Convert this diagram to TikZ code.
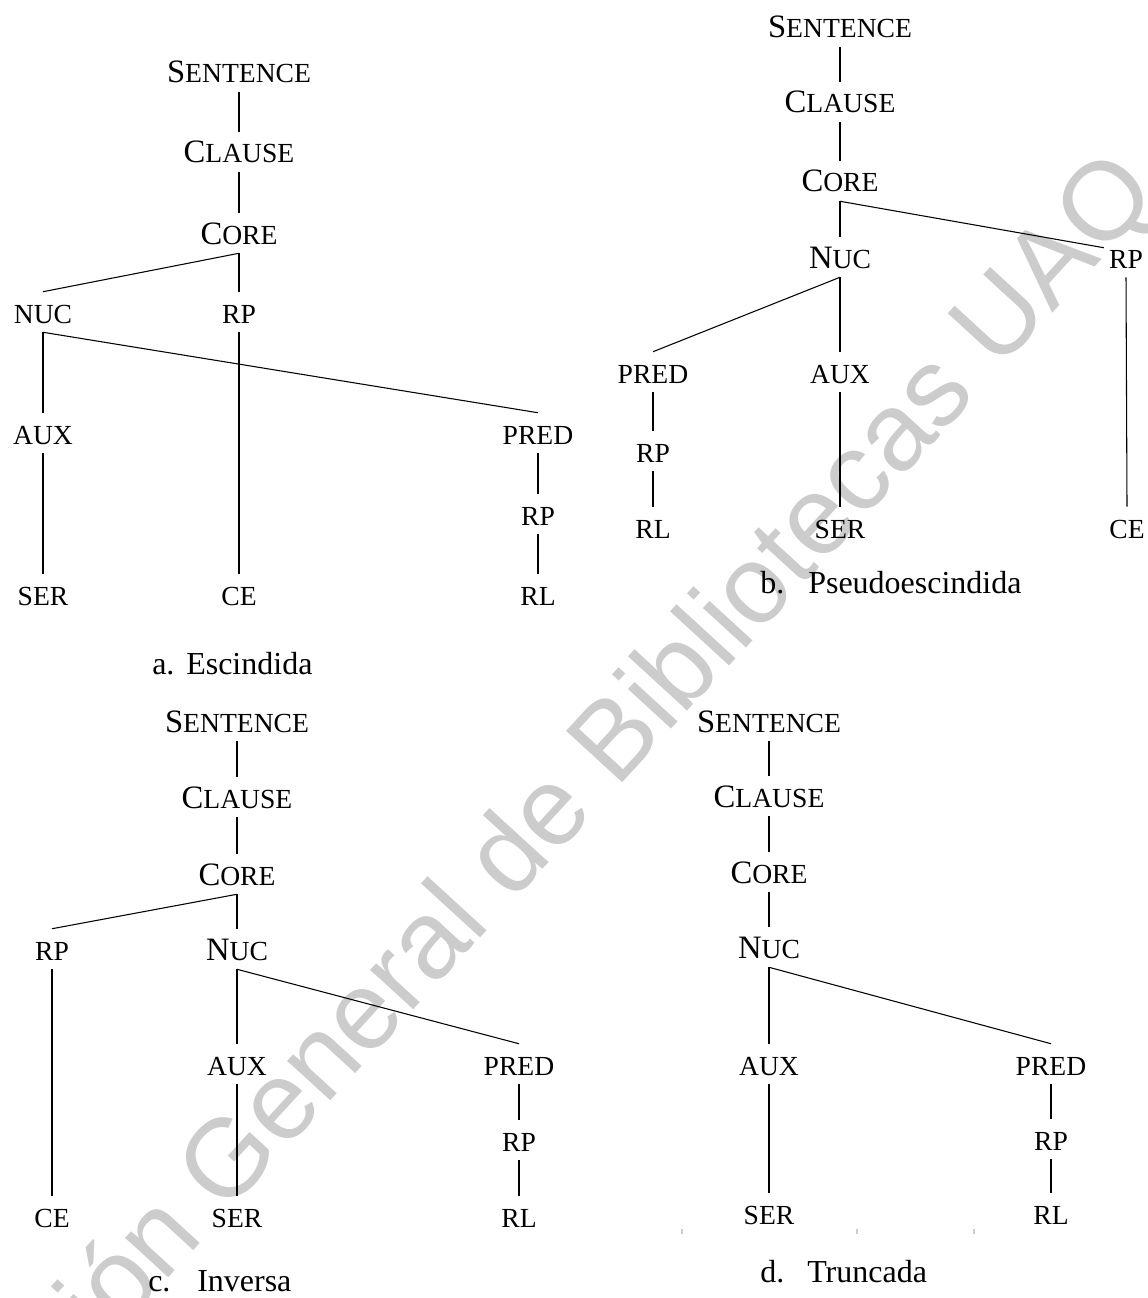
\documentclass[tikz,border=0pt]{standalone}
\usepackage{fontspec}
\setmainfont{Liberation Serif}
\newfontfamily\wmfont{Liberation Sans}
\definecolor{wmgray}{RGB}{204,204,204}
% small capitals: full-size initial, smaller capitals after it
\newcommand\scap[2]{{\fontsize{24.5}{29}\selectfont #1}#2}

\begin{document}
\begin{tikzpicture}[x=0.75pt,y=-0.75pt,
  lab/.style={font=\fontsize{20.7}{24}\selectfont, inner sep=0pt, anchor=base,
              text height=23.25pt, text depth=6.75pt},
  br/.style={draw=black, line width=0.8pt},
  capt/.style={font=\fontsize{24}{28}\selectfont, inner sep=0pt, anchor=base west},
  tick/.style={draw=wmgray, line width=0.8pt},
]
\useasboundingbox (0,0) rectangle (1147,1298);

% watermark
\node[rotate=47.5, text=wmgray, inner sep=0pt,
      font=\wmfont\fontsize{83}{90}\selectfont] (wm) at (505,866)
      {Dirección General de Bibliotecas UAQ};

% ---- a. Escindida
\node[lab] (a1)  at (239,83)  {\scap{S}{ENTENCE}};
\node[lab] (a2)  at (239,163) {\scap{C}{LAUSE}};
\node[lab] (a3)  at (239,244) {\scap{C}{ORE}};
\node[lab] (a4)  at (43,323)  {NUC};
\node[lab] (a5)  at (239,323) {RP};
\node[lab] (a6)  at (43,444)  {AUX};
\node[lab] (a7)  at (538,444) {PRED};
\node[lab] (a8)  at (538,525) {RP};
\node[lab] (a9)  at (43,605)  {SER};
\node[lab] (a10) at (239,605) {CE};
\node[lab] (a11) at (538,605) {RL};
\draw[br] (a1.south) -- (a2.north);
\draw[br] (a2.south) -- (a3.north);
\draw[br] (a3.south) -- (a4.north);
\draw[br] (a3.south) -- (a5.north);
\draw[br] (a4.south) -- (a6.north);
\draw[br] (a4.south) -- (a7.north);
\draw[br] (a5.south) -- (a10.north);
\draw[br] (a6.south) -- (a9.north);
\draw[br] (a7.south) -- (a8.north);
\draw[br] (a8.south) -- (a11.north);
\node[capt] (ca1) at (152,674) {a.};
\node[capt] (ca2) at (186,674) {Escindida};

% ---- b. Pseudoescindida
\node[lab] (b1)  at (840,38)   {\scap{S}{ENTENCE}};
\node[lab] (b2)  at (840,113)  {\scap{C}{LAUSE}};
\node[lab] (b3)  at (840,192)  {\scap{C}{ORE}};
\node[lab] (b4)  at (840,268)  {\scap{N}{UC}};
\node[lab] (b5)  at (1126,268) {RP};
\node[lab] (b6)  at (653,383)  {PRED};
\node[lab] (b7)  at (840,383)  {AUX};
\node[lab] (b8)  at (653,462)  {RP};
\node[lab] (b9)  at (653,538)  {RL};
\node[lab] (b10) at (840,538)  {SER};
\node[lab] (b11) at (1127,538) {CE};
\draw[br] (b1.south) -- (b2.north);
\draw[br] (b2.south) -- (b3.north);
\draw[br] (b3.south) -- (b4.north);
\draw[br] (b3.south) -- ([xshift=-3.75pt,yshift=-8.25pt]b5.north west);
\draw[br] (b4.south) -- (b6.north);
\draw[br] (b4.south) -- (b7.north);
\draw[br] (b5.south) -- (b11.north);
\draw[br] (b6.south) -- (b8.north);
\draw[br] (b8.south) -- (b9.north);
\draw[br] (b7.south) -- (b10.north);
\node[capt] (cb1) at (760,593) {b.};
\node[capt] (cb2) at (808,593) {Pseudoescindida};

% ---- c. Inversa
\node[lab] (c1)  at (237,732)  {\scap{S}{ENTENCE}};
\node[lab] (c2)  at (237,808)  {\scap{C}{LAUSE}};
\node[lab] (c3)  at (237,885)  {\scap{C}{ORE}};
\node[lab] (c4)  at (52,960)   {RP};
\node[lab] (c5)  at (237,960)  {\scap{N}{UC}};
\node[lab] (c6)  at (237,1075) {AUX};
\node[lab] (c7)  at (519,1075) {PRED};
\node[lab] (c8)  at (519,1151) {RP};
\node[lab] (c9)  at (52,1227)  {CE};
\node[lab] (c10) at (237,1227) {SER};
\node[lab] (c11) at (519,1227) {RL};
\draw[br] (c1.south) -- (c2.north);
\draw[br] (c2.south) -- (c3.north);
\draw[br] (c3.south) -- (c4.north);
\draw[br] (c3.south) -- (c5.north);
\draw[br] (c4.south) -- (c9.north);
\draw[br] (c5.south) -- (c6.north);
\draw[br] (c5.south) -- (c7.north);
\draw[br] (c6.south) -- (c10.north);
\draw[br] (c7.south) -- (c8.north);
\draw[br] (c8.south) -- (c11.north);
\node[capt] (cc1) at (148,1291) {c.};
\node[capt] (cc2) at (197,1291) {Inversa};

% ---- d. Truncada
\node[lab] (d1) at (769,732)   {\scap{S}{ENTENCE}};
\node[lab] (d2) at (769,807)   {\scap{C}{LAUSE}};
\node[lab] (d3) at (769,883)   {\scap{C}{ORE}};
\node[lab] (d4) at (769,958)   {\scap{N}{UC}};
\node[lab] (d5) at (769,1075)  {AUX};
\node[lab] (d6) at (1051,1075) {PRED};
\node[lab] (d7) at (1051,1150) {RP};
\node[lab] (d8) at (769,1224)  {SER};
\node[lab] (d9) at (1051,1224) {RL};
\draw[br] (d1.south) -- (d2.north);
\draw[br] (d2.south) -- (d3.north);
\draw[br] (d3.south) -- (d4.north);
\draw[br] (d4.south) -- (d5.north);
\draw[br] (d4.south) -- (d6.north);
\draw[br] (d5.south) -- (d8.north);
\draw[br] (d6.south) -- (d7.north);
\draw[br] (d7.south) -- (d9.north);
\node[capt] (cd1) at (760,1282) {d.};
\node[capt] (cd2) at (807,1282) {Truncada};

% small marks below the last row
\draw[tick] (682,1229) -- (682,1234);
\draw[tick] (857,1229) -- (857,1234);
\draw[tick] (974,1229) -- (974,1234);
\end{tikzpicture}
\end{document}
